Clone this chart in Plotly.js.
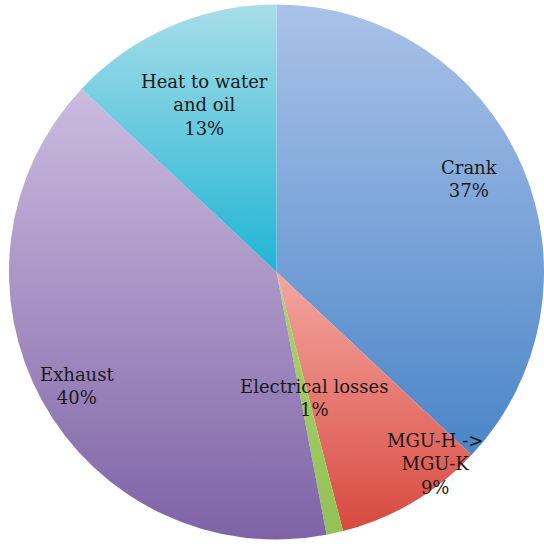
<!DOCTYPE html>
<html>
<head>
<meta charset="utf-8">
<script src="https://cdn.plot.ly/plotly-3.0.1.min.js"></script>
<style>html,body{margin:0;padding:0;background:#fff;}#chart{width:544px;height:547px;}</style>
</head>
<body>
<div id="chart"></div>
<script>
var labels = ["Crank", "MGU-H -><br>MGU-K", "Electrical losses", "Exhaust", "Heat to water<br>and oil"];
var values = [37, 9, 1, 40, 13];
var colors = ["#77a0d7", "#e6736b", "#9cc35c", "#a490c2", "#6ccbdf"];
// gradient stops (top, bottom) per slice
var gradTop = ["#aac2e8", "#f3a7a1", "#a9d46a", "#cbbbdf", "#a8dde8"];
var gradBottom = ["#4a85c8", "#d8493f", "#94c155", "#7e63a6", "#1fb4d4"];
// label placement: radial fraction and angular shift (deg)
var labelR = [0.80, 0.93, 0.49, 0.86, 0.68];
var labelShift = [-2.5, -9, -4, -1, 0];

var M = {l: 9, r: 0, t: 4, b: 7};
var W = 544, H = 547;
var pw = W - M.l - M.r, ph = H - M.t - M.b;
var R = Math.min(pw, ph) / 2;
var cx = M.l + pw / 2, cy = M.t + ph / 2;

var total = values.reduce(function (a, b) { return a + b; }, 0);
var annotations = [];
var cum = 0;
for (var i = 0; i < values.length; i++) {
  var mid = (cum + values[i] / 2) / total * 360 + labelShift[i];
  cum += values[i];
  var a = mid * Math.PI / 180;
  var px = cx + Math.sin(a) * R * labelR[i];
  var py = cy - Math.cos(a) * R * labelR[i];
  annotations.push({
    xref: "paper", yref: "paper",
    x: (px - M.l) / pw, y: 1 - (py - M.t) / ph,
    xanchor: "center", yanchor: "middle",
    showarrow: false, align: "center",
    text: labels[i] + "<br>" + Math.round(values[i] / total * 100) + "%",
    font: {family: "DejaVu Serif", size: 18, color: "#1a1a1a"}
  });
}

var trace = {
  type: "pie",
  labels: labels,
  values: values,
  sort: false,
  direction: "clockwise",
  rotation: 0,
  marker: {colors: colors, line: {width: 0}},
  textinfo: "none",
  hoverinfo: "none",
  showlegend: false
};

var layout = {
  width: W, height: H,
  margin: M,
  paper_bgcolor: "#ffffff",
  showlegend: false,
  annotations: annotations
};

Plotly.newPlot("chart", [trace], layout, {displayModeBar: false, staticPlot: true}).then(function (gd) {
  var svg = gd.querySelector("svg.main-svg");
  var ns = "http://www.w3.org/2000/svg";
  var defs = svg.querySelector("defs") || svg.insertBefore(document.createElementNS(ns, "defs"), svg.firstChild);
  var paths = gd.querySelectorAll("g.slice path.surface");
  paths.forEach(function (p, k) {
    var g = document.createElementNS(ns, "linearGradient");
    g.setAttribute("id", "sg" + k);
    g.setAttribute("x1", "0"); g.setAttribute("y1", "0");
    g.setAttribute("x2", "0"); g.setAttribute("y2", "1");
    var s1 = document.createElementNS(ns, "stop");
    s1.setAttribute("offset", "0"); s1.setAttribute("stop-color", gradTop[k]);
    var s2 = document.createElementNS(ns, "stop");
    s2.setAttribute("offset", "1"); s2.setAttribute("stop-color", gradBottom[k]);
    g.appendChild(s1); g.appendChild(s2);
    defs.appendChild(g);
    p.style.fill = "url(#sg" + k + ")";
  });
});
</script>
</body>
</html>
